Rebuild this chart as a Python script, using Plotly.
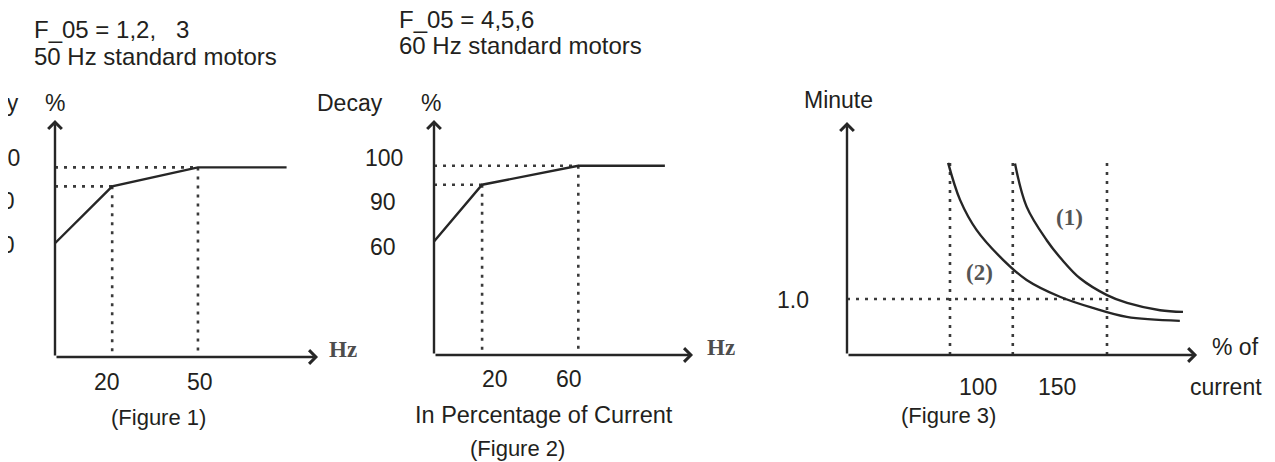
import plotly.graph_objects as go

# ---------------- data ----------------
# Figure 1 (F_05 = 1,2,3 : 50 Hz standard motors)
fig1_hz = [0, 20, 50, 81]
fig1_pct = [60, 90, 100, 100]
fig1_xtick_labels = ["20", "50"]
fig1_ytick_labels = ["100", "90", "60"]

# Figure 2 (F_05 = 4,5,6 : 60 Hz standard motors)
fig2_hz = [0, 20, 60, 96]
fig2_pct = [60, 90, 100, 100]
fig2_xtick_labels = ["20", "60"]
fig2_ytick_labels = ["100", "90", "60"]

# Figure 3 (minutes vs % of current)
curve1_current = [120.7, 124.4, 130.8, 135.7, 141.4, 150.0, 156.4, 166.9, 174.2]
curve1_minutes = [3.42, 2.65, 2.05, 1.70, 1.37, 1.07, 0.93, 0.80, 0.77]
curve2_current = [99.4, 103.2, 108.5, 116.9, 124.4, 135.0, 145.5, 156.3, 173.2]
curve2_minutes = [3.43, 2.77, 2.23, 1.70, 1.34, 1.04, 0.84, 0.68, 0.61]
fig3_guides_current = [100, 120, 150]
fig3_guide_minute = 1.0
fig3_guide_top = 3.48
fig3_xtick_labels = ["100", "150"]
fig3_ytick_labels = ["1.0"]

# ---------------- layout helpers ----------------
W, H = 1275, 462
INK = "#262626"
DOT = "#3a3a3a"
TXT = "#231f20"
SANS = "Liberation Sans, Arial, sans-serif"
SERIF = "Liberation Serif, Times New Roman, serif"
DOTDASH = "3px,6px"
FS = 23

fig = go.Figure()
layout_axes = {}


def setup_axes(n, ox, oy, x0, y0, sx, sy, left, right, top, bottom):
    sfx = "" if n == 1 else str(n)
    layout_axes["xaxis" + sfx] = dict(
        domain=[left / W, right / W],
        range=[x0 + (left - ox) / sx, x0 + (right - ox) / sx],
        visible=False, anchor="y" + sfx, fixedrange=True)
    layout_axes["yaxis" + sfx] = dict(
        domain=[1 - bottom / H, 1 - top / H],
        range=[y0 - (bottom - oy) / sy, y0 + (oy - top) / sy],
        visible=False, anchor="x" + sfx, fixedrange=True)
    return "x" + sfx, "y" + sfx


annotations = []


def axis_arrow(xr, yr, x_from, y_from, x_to, y_to):
    annotations.append(dict(
        x=x_to, y=y_to, ax=x_from, ay=y_from, xref=xr, yref=yr,
        axref=xr, ayref=yr, text="", showarrow=True, arrowhead=4,
        arrowsize=1.1, arrowwidth=2.4, arrowcolor=INK, standoff=0))


def label(text, xp, yp, anchor="center", size=FS, family=SANS, color=TXT, bold=False):
    t = "<b>%s</b>" % text if bold else text
    annotations.append(dict(
        x=xp / W, y=1 - yp / H, xref="paper", yref="paper", text=t,
        showarrow=False, xanchor=anchor, yanchor="middle",
        font=dict(size=size, family=family, color=color)))


def guides(xr, yr, xs, ys, x_axis0, y_axis0):
    gx, gy = [], []
    for xv, yv in zip(xs, ys):
        gx += [x_axis0, xv, None, xv, xv, None]
        gy += [yv, yv, None, yv, y_axis0, None]
    fig.add_trace(go.Scatter(x=gx, y=gy, xaxis=xr, yaxis=yr, mode="lines",
                             line=dict(color=DOT, width=2.6, dash=DOTDASH),
                             hoverinfo="skip", showlegend=False))


# ---------------- Figure 1 ----------------
x1, y1 = setup_axes(1, ox=55, oy=357, x0=0, y0=0, sx=2.859, sy=1.896,
                    left=40, right=345, top=100, bottom=372)
guides(x1, y1, fig1_hz[1:3], fig1_pct[1:3], 0, 0)
fig.add_trace(go.Scatter(x=fig1_hz, y=fig1_pct, xaxis=x1, yaxis=y1, mode="lines",
                         line=dict(color=INK, width=2.4), showlegend=False))
axis_arrow(x1, y1, 0, 0, 0, 125)
axis_arrow(x1, y1, 0, 0, 92, 0)

label("F_05 = 1,2,\u00a0\u00a0\u00a03", 32, 29, anchor="left", size=24)
label("50 Hz standard motors", 32, 57, anchor="left", size=24)
label("Decay", 21, 103, anchor="right")
label("%", 55, 103)
for t, xr_, yp in zip(fig1_ytick_labels, [22, 17, 17], [158, 201, 245]):
    label(t, xr_, yp, anchor="right")
for t, xp in zip(fig1_xtick_labels, [107, 200]):
    label(t, xp, 382)
label("Hz", 343, 349, size=23, family=SERIF, color="#4d4d4d", bold=True)
label("(Figure 1)", 158, 417, size=22)

# ---------------- Figure 2 ----------------
x2, y2 = setup_axes(2, ox=434, oy=355, x0=0, y0=0, sx=2.405, sy=1.892,
                    left=420, right=700, top=100, bottom=370)
guides(x2, y2, fig2_hz[1:3], fig2_pct[1:3], 0, 0)
fig.add_trace(go.Scatter(x=fig2_hz, y=fig2_pct, xaxis=x2, yaxis=y2, mode="lines",
                         line=dict(color=INK, width=2.4), showlegend=False))
axis_arrow(x2, y2, 0, 0, 0, 124.2)
axis_arrow(x2, y2, 0, 0, 107.7, 0)

label("F_05 = 4,5,6", 397, 20, anchor="left", size=24)
label("60 Hz standard motors", 397, 46, anchor="left", size=24)
label("Decay", 385, 103, anchor="right")
label("%", 431, 103)
for t, xr_, yp in zip(fig2_ytick_labels, [405, 398, 398], [158, 202, 247]):
    label(t, xr_, yp, anchor="right")
for t, xp in zip(fig2_xtick_labels, [495, 569]):
    label(t, xp, 379)
label("Hz", 721, 347, size=23, family=SERIF, color="#4d4d4d", bold=True)
label("In Percentage of Current", 544, 415, size=23.5)
label("(Figure 2)", 517, 448, size=22)

# ---------------- Figure 3 ----------------
X0_3 = 67.2
x3, y3 = setup_axes(3, ox=847, oy=355, x0=X0_3, y0=0, sx=3.14, sy=56,
                    left=835, right=1205, top=100, bottom=370)
gx, gy = [], []
for c in fig3_guides_current:
    gx += [c, c, None]
    gy += [0, fig3_guide_top, None]
gx += [X0_3, fig3_guides_current[-1], None]
gy += [fig3_guide_minute, fig3_guide_minute, None]
fig.add_trace(go.Scatter(x=gx, y=gy, xaxis=x3, yaxis=y3, mode="lines",
                         line=dict(color=DOT, width=2.6, dash=DOTDASH),
                         hoverinfo="skip", showlegend=False))
for cx, cy in [(curve1_current, curve1_minutes), (curve2_current, curve2_minutes)]:
    fig.add_trace(go.Scatter(x=cx, y=cy, xaxis=x3, yaxis=y3, mode="lines",
                             line=dict(color=INK, width=2.4, shape="spline", smoothing=1.0),
                             showlegend=False))
axis_arrow(x3, y3, X0_3, 0, X0_3, 4.16)
axis_arrow(x3, y3, X0_3, 0, 178.7, 0)

label("Minute", 838, 100)
label(fig3_ytick_labels[0], 793, 300)
for t, xp in zip(fig3_xtick_labels, [978, 1057]):
    label(t, xp, 387)
label("% of", 1235, 347)
label("current", 1226, 387)
label("(Figure 3)", 949, 415, size=22)
label("(1)", 1069, 217, size=23, family=SERIF, color="#555555", bold=True)
label("(2)", 979, 272, size=23, family=SERIF, color="#555555", bold=True)

# white strip on the far left: the source picture is cropped there
annotations.append(dict(
    x=0, y=1 - 90 / H, xref="paper", yref="paper", text="\u00a0",
    showarrow=False, xanchor="left", yanchor="top", width=8, height=180,
    bgcolor="white", borderpad=0, borderwidth=0))

fig.update_layout(
    width=W, height=H,
    margin=dict(l=0, r=0, t=0, b=0),
    paper_bgcolor="white", plot_bgcolor="white",
    showlegend=False,
    annotations=annotations,
    **layout_axes,
)

fig.write_html("out.html", config={"displayModeBar": False},
               post_script="document.body.style.margin='0px';")
